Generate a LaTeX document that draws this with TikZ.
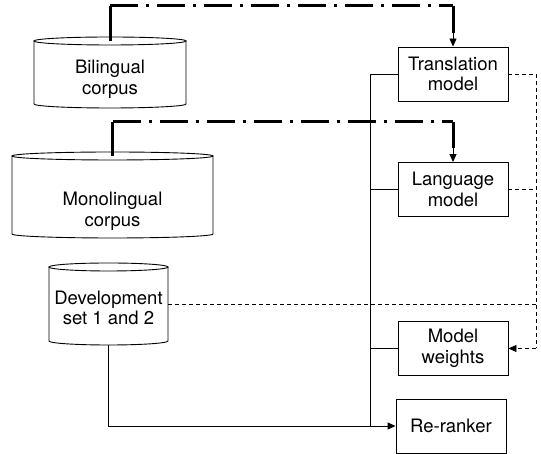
\documentclass[tikz,border=0pt]{standalone}
\usepackage{fontspec}
\setmainfont{TeX Gyre Heros}
\usetikzlibrary{arrows.meta,calc}
\tikzset{
  txt/.style={align=center, inner sep=0pt, font=\fontsize{18.5}{20.5}\selectfont},
  boxnode/.style={draw, line width=0.9pt, inner sep=0pt, minimum width=110pt, minimum height=54pt, align=center, font=\fontsize{18.5}{20.5}\selectfont},
  cylline/.style={line width=0.9pt},
  thin/.style={line width=0.9pt},
  dashline/.style={line width=0.9pt, dash pattern=on 4pt off 3pt},
  thickdd/.style={line width=3pt, dash pattern=on 28pt off 8pt on 3pt off 8pt},
  thicksolid/.style={line width=3pt},
  tip/.style={-{Triangle[width=7pt,length=8pt]}},
}
% name, x1, ytop, x2, ybot, text y, text
\newcommand\drawcyl[7]{%
  \pgfmathsetmacro\cxc{(#2+#4)/2}%
  \pgfmathsetmacro\cwr{(#4-#2)/2}%
  \pgfmathsetmacro\cbh{#3-#5-4}%
  \node[inner sep=0pt, minimum width={(#4-#2)*1pt}, minimum height={\cbh pt}] (#1) at (\cxc,{(#3-4+#5)/2}) {};
  \draw[cylline] (\cxc,#3-4) ellipse[x radius=\cwr pt, y radius=4pt];
  \draw[cylline] (#2,#3-4) -- (#2,#5+4) arc[start angle=180, end angle=360, x radius=\cwr pt, y radius=4pt] -- (#4,#3-4);
  \node[txt] (#1txt) at (\cxc,#6) {#7};
}
\begin{document}
\begin{tikzpicture}[x=1pt,y=1pt]
\useasboundingbox (0,0) rectangle (541,454);
\drawcyl{bil}{34}{417}{186}{346}{374.5}{Bilingual\\corpus}
\drawcyl{mono}{12}{302}{213}{216}{242.5}{Monolingual\\corpus}
\drawcyl{dev}{49}{191}{168}{109}{146}{Development\\set 1 and 2}

\node[boxnode] (tm) at (453,380) {Translation\\model};
\node[boxnode] (lm) at (453,264.5) {Language\\model};
\node[boxnode] (mw) at (453,105.5) {Model\\weights};
\node[boxnode] (rr) at (451,28) {Re-ranker};

% thick dash-dot connectors
\coordinate (b1) at (bil.north |- 0,448);
\coordinate (b2) at (tm.north |- 0,448);
\coordinate (b3) at ($(tm.north)+(0,14)$);
\draw[thicksolid] (bil.north) -- (b1);
\draw[thickdd] (b1) -- (b2);
\draw[thicksolid] (b2) -- (b3);
\draw[thin, tip] (b3) -- (tm.north);

\coordinate (m1) at (mono.north |- 0,332);
\coordinate (m2) at (lm.north |- 0,332);
\coordinate (m3) at ($(lm.north)+(0,14)$);
\draw[thicksolid] (mono.north) -- (m1);
\draw[thickdd] (m1) -- (m2);
\draw[thicksolid] (m2) -- (m3);
\draw[thin, tip] (m3) -- (lm.north);

% solid bus
\coordinate (bus) at (370,0);
\draw[thin] (tm.west) -- (tm.west -| bus) -- (rr.west -| bus);
\draw[thin] (lm.west) -- (lm.west -| bus);
\draw[thin] (mw.west) -- (mw.west -| bus);
\draw[thin, tip] (dev.south) -- (dev.south |- rr.west) -- (rr.west);

% dashed feedback
\coordinate (dr) at (536,0);
\draw[dashline] (tm.east) -- (tm.east -| dr) -- (mw.east -| dr);
\draw[dashline, tip] (mw.east -| dr) -- (mw.east);
\draw[dashline] (lm.east) -- (lm.east -| dr);
\draw[dashline] (dev.east |- 0,150) -- (dr |- 0,150);
\end{tikzpicture}
\end{document}
